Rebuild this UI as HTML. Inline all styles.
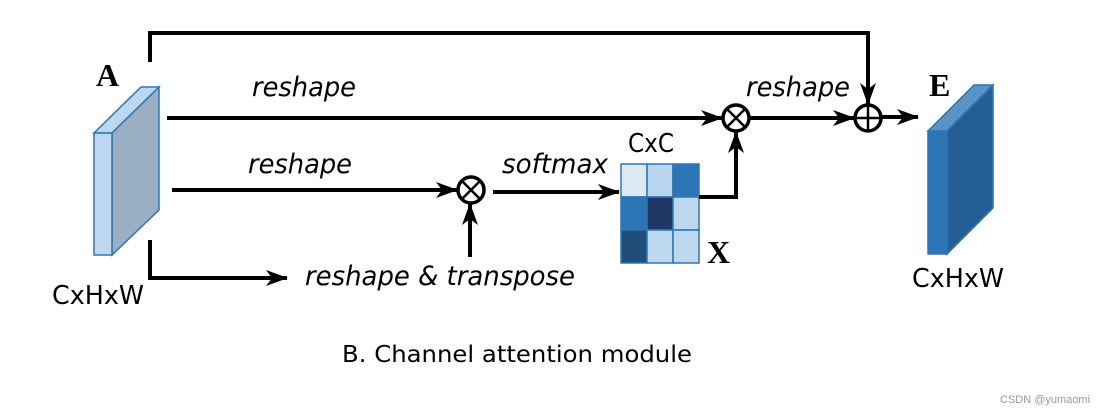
<!DOCTYPE html>
<html><head><style>body{margin:0;background:#fff}</style></head><body>
<svg width="1107" height="410" xmlns="http://www.w3.org/2000/svg" font-family="DejaVu Sans, Liberation Sans, sans-serif">
<defs>
<marker id="b" viewBox="0 0 22 16" markerWidth="22" markerHeight="16" refX="21" refY="8" orient="auto" markerUnits="userSpaceOnUse"><path d="M0,0 L22,8 L0,16 L6,8Z" fill="#000"/></marker></defs>
<!-- block A -->
<polygon points="94,133 112,133 159,87 141,87" fill="#bdd7ee" stroke="#2e75b6" stroke-width="1.5"/>
<polygon points="112,133 159,87 159,210 112,255" fill="#9aafc4" stroke="#2e75b6" stroke-width="1.5"/>
<rect x="94" y="133" width="18" height="122" fill="#bdd7ee" stroke="#2e75b6" stroke-width="1.5"/>
<!-- block E -->
<polygon points="928,131 947,131 993,85 974,85" fill="#5b93c8" stroke="#2e75b6" stroke-width="1.5"/>
<polygon points="947,131 993,85 993,208 947,254" fill="#255e94" stroke="#2e75b6" stroke-width="1.5"/>
<rect x="928" y="131" width="19" height="123" fill="#2e75b6" stroke="#2e75b6" stroke-width="1.5"/>
<!-- matrix -->
<g stroke="#2e75b6" stroke-width="1.5">
<rect x="621" y="164" width="26" height="33" fill="#dde9f5"/><rect x="647" y="164" width="26" height="33" fill="#bad5ee"/><rect x="673" y="164" width="26" height="33" fill="#2e75b6"/>
<rect x="621" y="197" width="26" height="33" fill="#2e75b6"/><rect x="647" y="197" width="26" height="33" fill="#203864"/><rect x="673" y="197" width="26" height="33" fill="#bdd7ee"/>
<rect x="621" y="230" width="26" height="33" fill="#1f4e79"/><rect x="647" y="230" width="26" height="33" fill="#bdd7ee"/><rect x="673" y="230" width="26" height="33" fill="#bdd7ee"/>
</g>
<!-- lines -->
<g stroke="#000" stroke-width="4" fill="none">
<polyline points="150,62 150,33 868,33 868,104" marker-end="url(#b)"/>
<line x1="167" y1="118" x2="722" y2="118" marker-end="url(#b)"/>
<line x1="750" y1="118" x2="854" y2="118" marker-end="url(#b)"/>
<line x1="882" y1="117" x2="918" y2="117" marker-end="url(#b)"/>
<line x1="172" y1="190" x2="457" y2="190" marker-end="url(#b)"/>
<line x1="493" y1="192" x2="619" y2="192" marker-end="url(#b)"/>
<polyline points="699,197 736,197 736,132" marker-end="url(#b)"/>
<polyline points="150,240 150,278 287,278" marker-end="url(#b)"/>
<line x1="470" y1="257" x2="470" y2="204" marker-end="url(#b)"/>
<circle cx="736" cy="118" r="13" stroke-width="3.5"/>
<line x1="727" y1="109" x2="745" y2="127" stroke-width="2.5"/><line x1="745" y1="109" x2="727" y2="127" stroke-width="2.5"/>
<circle cx="868" cy="118" r="13" stroke-width="3.5"/>
<line x1="855" y1="118" x2="881" y2="118" stroke-width="2.5"/><line x1="868" y1="105" x2="868" y2="131" stroke-width="2.5"/>
<circle cx="471" cy="190" r="13" stroke-width="3.5"/>
<line x1="462" y1="181" x2="480" y2="199" stroke-width="2.5"/><line x1="480" y1="181" x2="462" y2="199" stroke-width="2.5"/>
</g>
<g font-style="italic" font-size="27" fill="#000">
<text x="252" y="96" textLength="104" lengthAdjust="spacingAndGlyphs">reshape</text>
<text x="248" y="173" textLength="104" lengthAdjust="spacingAndGlyphs">reshape</text>
<text x="502" y="173" textLength="106" lengthAdjust="spacingAndGlyphs">softmax</text>
<text x="746" y="96" textLength="104" lengthAdjust="spacingAndGlyphs">reshape</text>
<text x="305" y="285" textLength="270" lengthAdjust="spacingAndGlyphs">reshape &amp; transpose</text>
</g>
<g font-size="26" fill="#000">
<text x="628" y="152" textLength="46" lengthAdjust="spacingAndGlyphs">CxC</text>
<text x="52" y="304" textLength="92" lengthAdjust="spacingAndGlyphs">CxHxW</text>
<text x="912" y="287" textLength="92" lengthAdjust="spacingAndGlyphs">CxHxW</text>
<text x="342" y="362" font-size="23" textLength="350" lengthAdjust="spacingAndGlyphs">B. Channel attention module</text>
</g>
<g font-family="Liberation Serif, serif" font-weight="bold" font-size="32" fill="#000">
<text x="96" y="86">A</text><text x="929" y="96">E</text><text x="707" y="263">X</text>
</g>
<text x="1000" y="403" font-size="11" fill="#999" font-family="Liberation Sans, sans-serif">CSDN @yumaomi</text>
</svg>
</body></html>
